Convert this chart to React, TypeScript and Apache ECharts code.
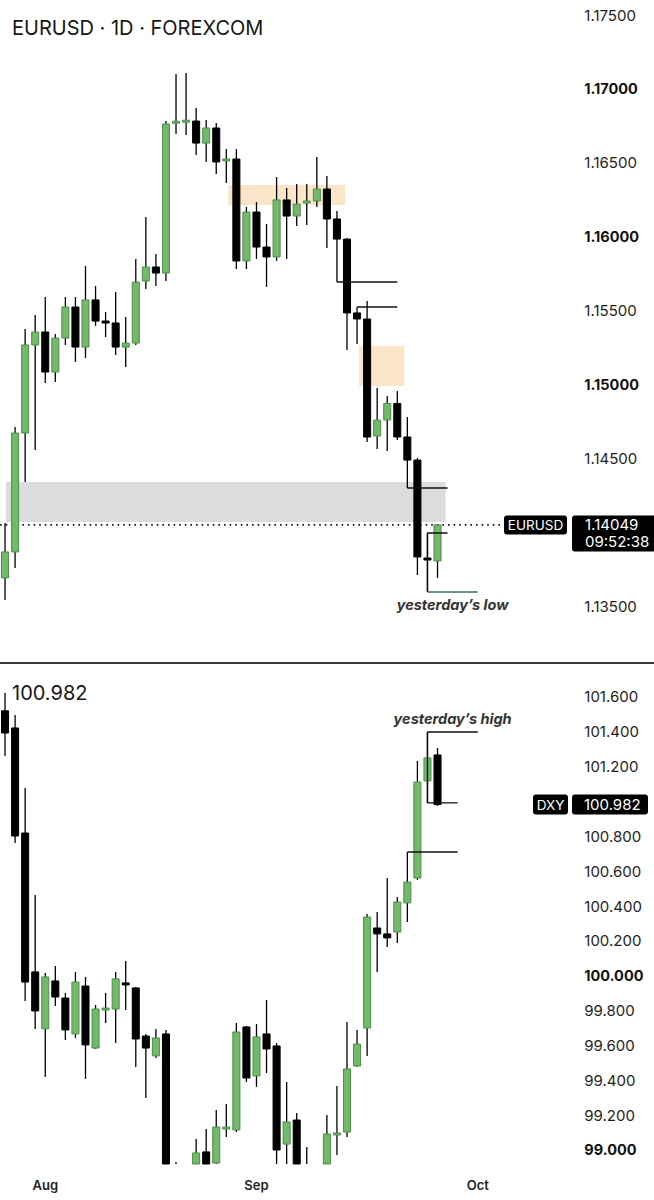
import React, { useEffect, useRef } from "react";
import * as echarts from "echarts";

// trading days shown on the shared time axis
const days = [
  "2025-07-28", "2025-07-29", "2025-07-30", "2025-07-31", "2025-08-01",
  "2025-08-04", "2025-08-05", "2025-08-06", "2025-08-07", "2025-08-08",
  "2025-08-11", "2025-08-12", "2025-08-13", "2025-08-14", "2025-08-15",
  "2025-08-18", "2025-08-19", "2025-08-20", "2025-08-21", "2025-08-22",
  "2025-08-25", "2025-08-26", "2025-08-27", "2025-08-28", "2025-08-29",
  "2025-09-01", "2025-09-02", "2025-09-03", "2025-09-04", "2025-09-05",
  "2025-09-08", "2025-09-09", "2025-09-10", "2025-09-11", "2025-09-12",
  "2025-09-15", "2025-09-16", "2025-09-17", "2025-09-18", "2025-09-19",
  "2025-09-22", "2025-09-23", "2025-09-24", "2025-09-25", "2025-09-26",
  "2025-09-29", "2025-09-30", "2025-10-01", "2025-10-02", "2025-10-03",
  "2025-10-06", "2025-10-07", "2025-10-08", "2025-10-09", "2025-10-10",
  "2025-10-13", "2025-10-14",
];
const monthNames = ["Jan", "Feb", "Mar", "Apr", "May", "Jun", "Jul", "Aug", "Sep", "Oct", "Nov", "Dec"];

// EURUSD daily [open, close, low, high]
const eurusd = [
  [1.1369, 1.13866, 1.13541, 1.14062],
  [1.13866, 1.14671, 1.13757, 1.14712],
  [1.14671, 1.15267, 1.14339, 1.15375],
  [1.15267, 1.15355, 1.14556, 1.1547],
  [1.15355, 1.15084, 1.1501, 1.15592],
  [1.15084, 1.15314, 1.15016, 1.15341],
  [1.15314, 1.15524, 1.15267, 1.15592],
  [1.15524, 1.15253, 1.15152, 1.15592],
  [1.15253, 1.15572, 1.15179, 1.15802],
  [1.15572, 1.15429, 1.15396, 1.15666],
  [1.15426, 1.15419, 1.15321, 1.1549],
  [1.15416, 1.15253, 1.15199, 1.15626],
  [1.15253, 1.1528, 1.15118, 1.15456],
  [1.1528, 1.15693, 1.15267, 1.15849],
  [1.157, 1.15795, 1.15646, 1.16133],
  [1.15795, 1.15754, 1.15666, 1.15883],
  [1.15754, 1.16763, 1.157, 1.16783],
  [1.1677, 1.1678, 1.16695, 1.17102],
  [1.16777, 1.16787, 1.16689, 1.17108],
  [1.16783, 1.16634, 1.16553, 1.16871],
  [1.16634, 1.16736, 1.16506, 1.1679],
  [1.16736, 1.16506, 1.16425, 1.1677],
  [1.16516, 1.16523, 1.16364, 1.16594],
  [1.16526, 1.15836, 1.15781, 1.16594],
  [1.15836, 1.16167, 1.15781, 1.16201],
  [1.16167, 1.1593, 1.15849, 1.16235],
  [1.1593, 1.15863, 1.1566, 1.16086],
  [1.15863, 1.16249, 1.15836, 1.16404],
  [1.16249, 1.1614, 1.15849, 1.1633],
  [1.1614, 1.16221, 1.16073, 1.16357],
  [1.16232, 1.16238, 1.16079, 1.16357],
  [1.16242, 1.16323, 1.16201, 1.1654],
  [1.16323, 1.1612, 1.15924, 1.16411],
  [1.1612, 1.15984, 1.15693, 1.16174],
  [1.15984, 1.15484, 1.15233, 1.1599],
  [1.15484, 1.15443, 1.15274, 1.15524],
  [1.15443, 1.14644, 1.1461, 1.15565],
  [1.14651, 1.14759, 1.14563, 1.14976],
  [1.14759, 1.14871, 1.14549, 1.14922],
  [1.14871, 1.14644, 1.14624, 1.14955],
  [1.14644, 1.14488, 1.14299, 1.14779],
  [1.14488, 1.13832, 1.1371, 1.14502],
  [1.13821, 1.13815, 1.13595, 1.13994],
  [1.13805, 1.14049, 1.1369, 1.14052],
];

// DXY daily [open, close, low, high]
const dxy = [
  [101.52, 101.393, 101.261, 101.623],
  [101.422, 100.802, 100.762, 101.497],
  [100.819, 99.964, 99.855, 101.078],
  [100.022, 99.798, 99.695, 100.464],
  [99.695, 99.993, 99.419, 100.016],
  [99.97, 99.878, 99.827, 100.056],
  [99.872, 99.689, 99.631, 99.901],
  [99.666, 99.964, 99.643, 100.022],
  [99.941, 99.603, 99.408, 99.993],
  [99.585, 99.809, 99.58, 99.832],
  [99.806, 99.812, 99.729, 99.901],
  [99.809, 99.982, 99.614, 100.022],
  [99.956, 99.95, 99.804, 100.085],
  [99.93, 99.637, 99.476, 99.936],
  [99.654, 99.585, 99.299, 99.666],
  [99.54, 99.643, 99.528, 99.695],
  [99.666, 98.8, 98.7, 99.689],
  [98.85, 98.8, 98.7, 98.931],
  [98.8, 98.85, 98.7, 98.9],
  [98.85, 98.983, 98.8, 99.063],
  [98.989, 98.88, 98.85, 99.121],
  [98.925, 99.132, 98.9, 99.23],
  [99.123, 99.129, 99.075, 99.264],
  [99.115, 99.677, 99.103, 99.729],
  [99.706, 99.413, 99.39, 99.712],
  [99.425, 99.649, 99.362, 99.723],
  [99.666, 99.58, 99.442, 99.861],
  [99.597, 99.0, 98.85, 99.614],
  [99.034, 99.161, 98.88, 99.39],
  [99.172, 98.85, 98.8, 99.212],
  [98.9, 98.85, 98.8, 99.017],
  [98.85, 98.88, 98.75, 98.9],
  [98.88, 99.092, 98.85, 99.201],
  [99.089, 99.095, 98.971, 99.367],
  [99.103, 99.465, 99.075, 99.735],
  [99.482, 99.608, 99.478, 99.689],
  [99.7, 100.337, 99.54, 100.355],
  [100.274, 100.24, 100.022, 100.366],
  [100.24, 100.217, 100.165, 100.561],
  [100.251, 100.423, 100.188, 100.452],
  [100.418, 100.538, 100.309, 100.71],
  [100.561, 101.112, 100.55, 101.233],
  [101.118, 101.25, 100.992, 101.399],
  [101.267, 100.982, 100.975, 101.307],
];

const eurLast = 1.14049;
const eurClock = "09:52:38";
const dxyLast = 100.982;
const yesterday = 42;

// horizontal level lines [fromDay, toDay, price]
const eurLevels = [
  [33, 39, 1.15693],
  [35, 39, 1.15524],
  [40, 44, 1.14299],
];
const dxyLevels = [[40, 45, 100.71]];

// shaded zones [fromDay, toDay, lowPrice, highPrice]
const eurGreyZones = [[0.1, 43.8, 1.14069, 1.14339]];
const eurOrangeZones = [
  [22.2, 33.8, 1.16215, 1.1635],
  [35.2, 39.7, 1.14989, 1.1526],
];

const FONT = "Inter, 'Noto Sans', sans-serif";
const GREEN = "#72b96c";
const GREEN_EDGE = "#4c8f48";

function renderCandle(params: any, api: any) {
  const x = api.value(0);
  const o = api.value(1);
  const c = api.value(2);
  const l = api.value(3);
  const h = api.value(4);
  const cs = params.coordSys;
  const top = cs.y;
  const bottom = cs.y + cs.height;
  const clampY = (v: number) => Math.max(top, Math.min(bottom, v));
  const pO = api.coord([x, o]);
  const yO = pO[1];
  const yC = api.coord([x, c])[1];
  const yH = api.coord([x, h])[1];
  const yL = api.coord([x, l])[1];
  const cx = pO[0];
  const w = api.size([1, 0])[0] * 0.7;
  const up = c >= o;
  const children: any[] = [];
  if (yL > top && yH < bottom) {
    children.push({
      type: "line",
      shape: { x1: cx, y1: clampY(yH), x2: cx, y2: clampY(yL) },
      style: { stroke: "#000", lineWidth: 1.3 },
    });
  }
  let y1 = Math.min(yO, yC);
  let y2 = Math.max(yO, yC);
  if (y2 - y1 < 2) {
    const m = (y1 + y2) / 2;
    y1 = m - 1;
    y2 = m + 1;
  }
  if (y2 > top && y1 < bottom) {
    const a = clampY(y1);
    const b = clampY(y2);
    children.push({
      type: "rect",
      shape: { x: cx - w / 2, y: a, width: w, height: b - a },
      style: {
        fill: up ? GREEN : "#000",
        stroke: up ? GREEN_EDGE : "#000",
        lineWidth: 1,
      },
    });
  }
  return { type: "group", children };
}

const isMult = (v: number, step: number) => Math.abs(v / step - Math.round(v / step)) < 1e-6;

export default function App() {
  const ref = useRef<HTMLDivElement>(null);
  useEffect(() => {
    if (!ref.current) return;
    const chart = echarts.init(ref.current, null, { renderer: "svg" });

    const monthStarts: number[] = [];
    days.forEach((d, i) => {
      if (i > 0 && d.slice(5, 7) !== days[i - 1].slice(5, 7)) monthStarts.push(i);
    });

    const lineSeries = (pts: number[][], xi: number, color: string) => ({
      type: "line",
      xAxisIndex: xi,
      yAxisIndex: xi,
      data: pts,
      symbol: "none",
      silent: true,
      z: 6,
      lineStyle: { color, width: 1.4 },
    });

    const eurY = eurusd[yesterday];
    const dxyY = dxy[yesterday];

    const series: any[] = [
      {
        type: "line",
        xAxisIndex: 0,
        yAxisIndex: 0,
        data: [],
        z: 1,
        silent: true,
        markArea: {
          silent: true,
          data: [
            ...eurGreyZones.map((zz) => [
              { coord: [zz[0], zz[3]], itemStyle: { color: "#dcdcdc" } },
              { coord: [zz[1], zz[2]] },
            ]),
            ...eurOrangeZones.map((zz) => [
              { coord: [zz[0], zz[3]], itemStyle: { color: "#fbe5c9" } },
              { coord: [zz[1], zz[2]] },
            ]),
          ],
        },
      },
      {
        type: "line",
        xAxisIndex: 0,
        yAxisIndex: 0,
        data: [
          [-0.5, eurLast],
          [49.5, eurLast],
        ],
        symbol: "none",
        silent: true,
        z: 2,
        lineStyle: { color: "#111", width: 1.6, type: [1.6, 4] },
      },
      {
        type: "custom",
        xAxisIndex: 0,
        yAxisIndex: 0,
        renderItem: renderCandle,
        data: eurusd.map((d, i) => [i, ...d]),
        encode: { x: 0, y: [1, 2, 3, 4] },
        z: 4,
      },
      {
        type: "custom",
        xAxisIndex: 1,
        yAxisIndex: 1,
        renderItem: renderCandle,
        data: dxy.map((d, i) => [i, ...d]),
        encode: { x: 0, y: [1, 2, 3, 4] },
        z: 4,
      },
      ...eurLevels.map((lv) => lineSeries([[lv[0], lv[2]], [lv[1], lv[2]]], 0, "#111")),
      lineSeries(
        [
          [yesterday + 2, eurY[3]],
          [yesterday, eurY[3]],
          [yesterday, eurY[2]],
        ],
        0,
        "#111"
      ),
      lineSeries(
        [
          [yesterday, eurY[2]],
          [yesterday + 5, eurY[2]],
        ],
        0,
        "#2f6d66"
      ),
      ...dxyLevels.map((lv) => lineSeries([[lv[0], lv[2]], [lv[1], lv[2]]], 1, "#111")),
      lineSeries(
        [
          [yesterday + 5, dxyY[3]],
          [yesterday, dxyY[3]],
          [yesterday, dxyY[2]],
          [yesterday + 3, dxyY[2]],
        ],
        1,
        "#111"
      ),
    ];

    // price-axis labels; the one hidden under the live price tag is left out
    const yLabel = (decimals: number, boldStep: number, last: number, hideWithin: number) => ({
      margin: 11,
      showMinLabel: false,
      showMaxLabel: false,
      fontFamily: FONT,
      fontSize: 15,
      color: "#1e1e1e",
      formatter: (v: number) => {
        if (Math.abs(v - last) < hideWithin) return "";
        const s = v.toFixed(decimals);
        return isMult(v, boldStep) ? `{b|${s}}` : s;
      },
      rich: {
        b: { fontFamily: FONT, fontSize: 14.5, fontWeight: "bold", color: "#111" },
      },
    });

    const gridL = -2.05;
    const gridW = 575.35;

    const option: any = {
      animation: false,
      backgroundColor: "#ffffff",
      grid: [
        { left: gridL, width: gridW, top: 0, height: 662 },
        { left: gridL, width: gridW, top: 664, height: 500 },
      ],
      xAxis: [
        { type: "value", gridIndex: 0, min: -0.5, max: 56.5, show: false },
        {
          type: "value",
          gridIndex: 1,
          min: -0.5,
          max: 56.5,
          axisLine: { show: false },
          axisTick: { show: false },
          splitLine: { show: false },
          axisLabel: {
            customValues: monthStarts,
            formatter: (v: number) => {
              const d = days[Math.round(v)];
              return d ? monthNames[parseInt(d.slice(5, 7), 10) - 1] : "";
            },
            fontFamily: FONT,
            fontSize: 13,
            fontWeight: 600,
            color: "#222",
            margin: 14,
          },
        },
      ],
      yAxis: [
        {
          type: "value",
          gridIndex: 0,
          position: "right",
          min: 1.131209,
          max: 1.176025,
          splitNumber: 9,
          axisLine: { show: false },
          axisTick: { show: false },
          splitLine: { show: false },
          axisLabel: yLabel(5, 0.01, eurLast, 0.0009),
        },
        {
          type: "value",
          gridIndex: 1,
          position: "right",
          min: 98.9196,
          max: 101.789,
          splitNumber: 14,
          axisLine: { show: false },
          axisTick: { show: false },
          splitLine: { show: false },
          axisLabel: yLabel(3, 1, dxyLast, 0.08),
        },
      ],
      series,
    };
    chart.setOption(option);

    const pe = chart.convertToPixel({ gridIndex: 0 } as any, [43, eurLast]) as number[];
    const pd = chart.convertToPixel({ gridIndex: 1 } as any, [43, dxyLast]) as number[];
    const pLow = chart.convertToPixel({ gridIndex: 0 } as any, [yesterday + 2.5, eurY[2]]) as number[];
    const pHigh = chart.convertToPixel({ gridIndex: 1 } as any, [yesterday + 2.5, dxyY[3]]) as number[];

    const txt = (x: number, y: number, text: string, extra: any = {}) => ({
      type: "text",
      x,
      y,
      z: 100,
      style: {
        text,
        fill: "#111",
        fontFamily: FONT,
        fontSize: 14,
        align: "left",
        verticalAlign: "middle",
        ...extra,
      },
    });

    chart.setOption({
      graphic: [
        { type: "rect", z: 50, shape: { x: 0, y: 662, width: 654, height: 2 }, style: { fill: "#3a3a3a" } },
        txt(12, 28, "EURUSD · 1D · FOREXCOM", { fontSize: 20, fill: "#161616" }),
        txt(12, 693, dxyLast.toFixed(3), { fontSize: 20, fill: "#161616" }),
        txt(pLow[0], pLow[1] + 13, "yesterday’s low", {
          align: "center",
          fontStyle: "italic",
          fontWeight: "bold",
          fontSize: 14.5,
          fill: "#333",
        }),
        txt(pHigh[0], pHigh[1] - 13, "yesterday’s high", {
          align: "center",
          fontStyle: "italic",
          fontWeight: "bold",
          fontSize: 14.5,
          fill: "#333",
        }),
        // EURUSD price labels
        { type: "rect", z: 90, shape: { x: 504, y: pe[1] - 9.5, width: 63, height: 19, r: 3 }, style: { fill: "#000" } },
        txt(535.5, pe[1], "EURUSD", { align: "center", fill: "#fff", fontSize: 13.5 }),
        { type: "rect", z: 90, shape: { x: 572, y: pe[1] - 9.5, width: 90, height: 36, r: 3 }, style: { fill: "#000" } },
        txt(585, pe[1], eurLast.toFixed(5), { fill: "#fff", fontSize: 15 }),
        txt(585, pe[1] + 17, eurClock, { fill: "#fff", fontSize: 15 }),
        // DXY price labels
        { type: "rect", z: 90, shape: { x: 533, y: pd[1] - 10, width: 35, height: 20, r: 3 }, style: { fill: "#000" } },
        txt(550.5, pd[1], "DXY", { align: "center", fill: "#fff", fontSize: 13.5 }),
        { type: "rect", z: 90, shape: { x: 572, y: pd[1] - 10, width: 76, height: 20, r: 3 }, style: { fill: "#000" } },
        txt(584, pd[1], dxyLast.toFixed(3), { fill: "#fff", fontSize: 15 }),
      ],
    });

    return () => chart.dispose();
  }, []);

  return (
    <div
      ref={ref}
      style={{ position: "fixed", left: 0, top: 0, width: 654, height: 1200, background: "#fff" }}
    />
  );
}
